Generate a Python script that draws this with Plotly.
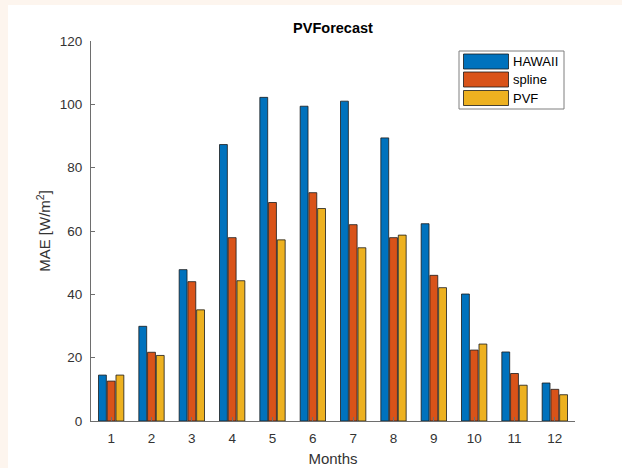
import plotly.graph_objects as go

# Monthly mean absolute error of three PV forecast methods
months = [1, 2, 3, 4, 5, 6, 7, 8, 9, 10, 11, 12]
hawaii = [14.5, 29.9, 47.8, 87.3, 102.2, 99.4, 101.0, 89.4, 62.3, 40.1, 21.8, 12.0]
spline = [12.6, 21.7, 44.0, 57.9, 69.0, 72.1, 62.0, 57.9, 46.0, 22.4, 15.0, 10.0]
pvf = [14.5, 20.7, 35.1, 44.3, 57.2, 67.1, 54.7, 58.7, 42.1, 24.3, 11.3, 8.3]

series_names = ["HAWAII", "spline", "PVF"]
series_values = [hawaii, spline, pvf]
colors = ["#0072BD", "#D95319", "#EDB120"]

FONT = "Liberation Sans, Arial, Helvetica, sans-serif"
LINE_GRAY = "#6e6e6e"
TEXT_GRAY = "#333333"

W, H = 622, 468
L, R, T, B = 91, 47, 41, 47
pw, ph = W - L - R, H - T - B


def px_to_paper(x, y):
    return (x - L) / pw, (H - B - y) / ph


fig = go.Figure()
for name, vals, col in zip(series_names, series_values, colors):
    fig.add_trace(go.Bar(
        x=months, y=vals, name=name,
        marker=dict(color=col, line=dict(color="#1a1a1a", width=0.8)),
        showlegend=False,
    ))

shapes = []
annotations = []

# white figure panel on a light surround
x0, y0 = px_to_paper(8, 5)
x1, y1 = px_to_paper(W + 2, H + 2)
shapes.append(dict(type="rect", xref="paper", yref="paper", x0=x0, y0=y1, x1=x1, y1=y0,
                   fillcolor="white", line=dict(width=0), layer="below"))

# legend box with swatches
lx0, ly0 = px_to_paper(459, 51)
lx1, ly1 = px_to_paper(564, 109)
shapes.append(dict(type="rect", xref="paper", yref="paper", x0=lx0, y0=ly1, x1=lx1, y1=ly0,
                   fillcolor="white", line=dict(color="#7f7f7f", width=1)))
sw_tops = [54, 72, 90.5]
for name, col, top in zip(series_names, colors, sw_tops):
    sx0, sy0 = px_to_paper(463.5, top)
    sx1, sy1 = px_to_paper(508.5, top + 15)
    shapes.append(dict(type="rect", xref="paper", yref="paper", x0=sx0, y0=sy1, x1=sx1, y1=sy0,
                       fillcolor=col, line=dict(color="#1a1a1a", width=0.8)))
    tx, ty = px_to_paper(511, top + 7.5)
    annotations.append(dict(x=tx, y=ty, xref="paper", yref="paper", text=name,
                            showarrow=False, xanchor="left", yanchor="middle",
                            font=dict(family=FONT, size=13, color="black")))

fig.update_layout(
    width=W, height=H,
    margin=dict(l=L, r=R, t=T, b=B, autoexpand=False),
    paper_bgcolor="#fdf5ee",
    plot_bgcolor="white",
    barmode="group",
    bargap=0.35,
    bargroupgap=0.1,
    title=dict(text="<b>PVForecast</b>", x=(L + pw / 2) / W, xanchor="center",
               y=1 - 28 / H, yanchor="middle",
               font=dict(family=FONT, size=14.5, color="black")),
    font=dict(family=FONT, size=13, color=TEXT_GRAY),
    xaxis=dict(
        range=[0.5, 12.5], tickmode="array", tickvals=months,
        ticktext=[str(m) for m in months],
        showline=True, linecolor=LINE_GRAY, linewidth=1,
        ticks="inside", ticklen=4, tickcolor=LINE_GRAY,
        showgrid=False, zeroline=False, automargin=False,
        ticklabelstandoff=5,
        tickfont=dict(family=FONT, size=13.5, color=TEXT_GRAY),
        title=dict(text="Months", standoff=8,
                   font=dict(family=FONT, size=15, color=TEXT_GRAY)),
    ),
    yaxis=dict(
        range=[0, 120], tick0=0, dtick=20,
        showline=True, linecolor=LINE_GRAY, linewidth=1,
        ticks="inside", ticklen=4, tickcolor=LINE_GRAY,
        showgrid=False, zeroline=False, automargin=False,
        ticklabelstandoff=5,
        tickfont=dict(family=FONT, size=13.5, color=TEXT_GRAY),
        title=dict(text="MAE [W/m<sup>2</sup>]", standoff=5,
                   font=dict(family=FONT, size=15, color=TEXT_GRAY)),
    ),
    shapes=shapes,
    annotations=annotations,
)

fig.write_html("out.html")
